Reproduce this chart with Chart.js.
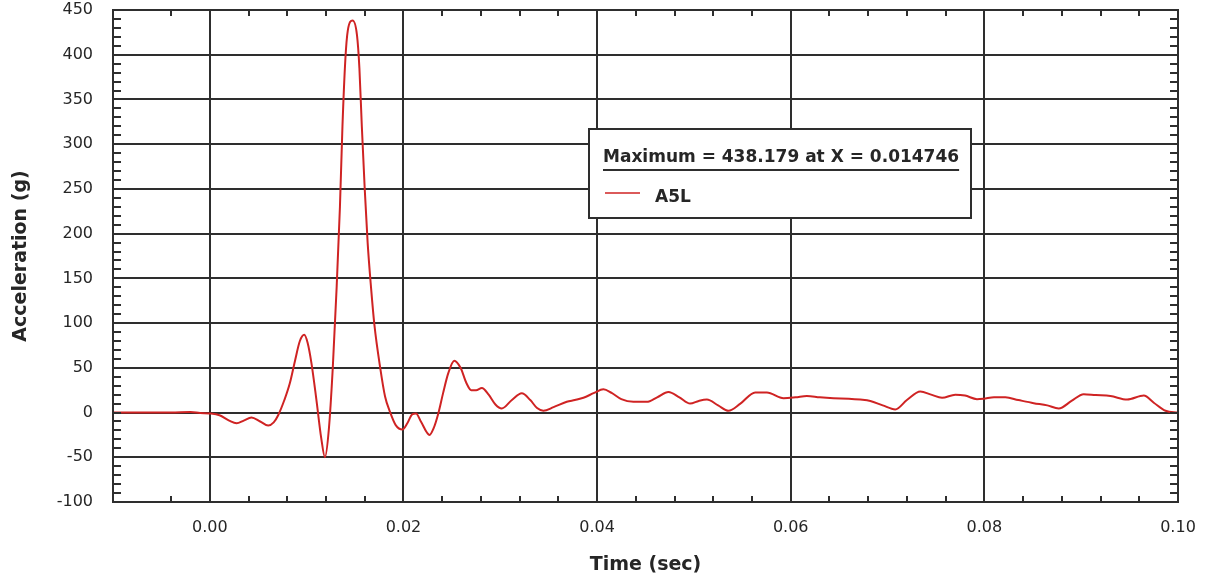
<!DOCTYPE html>
<html>
<head>
<meta charset="utf-8">
<title>A5L acceleration</title>
<script src="https://cdn.jsdelivr.net/npm/chart.js@4.4.1/dist/chart.umd.min.js"></script>
<style>
    html, body { margin: 0; padding: 0; background: #ffffff; }
    #wrap { position: relative; width: 1206px; height: 582px; }
</style>
</head>
<body>
<div id="wrap"><canvas id="accelChart"></canvas></div>
<script>
// Sampled acceleration trace, channel A5L
const seriesName = 'A5L';
const timeSec = [
    -0.01, -0.008, -0.004, -0.002, -0.001, 0.0,
    0.001, 0.002, 0.00276, 0.0035, 0.0043, 0.0052, 0.00603, 0.0066, 0.00706,
    0.0077, 0.00827, 0.0088, 0.0093, 0.00975, 0.0101, 0.0105, 0.011, 0.0115,
    0.01189, 0.0123, 0.0127, 0.0131, 0.01344, 0.0137, 0.014, 0.01425, 0.014746,
    0.0152, 0.01545, 0.0157, 0.016, 0.0163, 0.01665, 0.017, 0.0176, 0.0181,
    0.0186, 0.0192, 0.0199, 0.0204, 0.0209, 0.0213, 0.0218, 0.0227, 0.0231,
    0.0236, 0.0241, 0.02463, 0.02525, 0.0259, 0.0265, 0.027, 0.0275, 0.0281,
    0.0288, 0.0295, 0.03015, 0.0312, 0.03222, 0.0331, 0.0338, 0.03445, 0.0355,
    0.03687, 0.0377, 0.03859, 0.0397, 0.04065, 0.0415, 0.0425, 0.04375, 0.04513,
    0.0462, 0.04737, 0.0485, 0.04961, 0.0505, 0.05134, 0.0525, 0.05357, 0.0548,
    0.05633, 0.05754, 0.05926, 0.0605, 0.06167, 0.063, 0.06442, 0.066, 0.06718,
    0.06822, 0.0695, 0.0708, 0.072, 0.07339, 0.0745, 0.07563, 0.077, 0.078,
    0.07924, 0.07993, 0.081, 0.08217, 0.0835, 0.0851, 0.0865, 0.08768, 0.089,
    0.09026, 0.0915, 0.09302, 0.09475, 0.09647, 0.0975, 0.09871, 0.1
];
const accelG = [
    0, 0, 0, 0.5, -0.5, -1,
    -3, -9, -12, -9, -5.5, -10, -14.5, -11, -3,
    14, 33, 58, 80, 87, 78, 55, 15, -28,
    -50, -18, 50, 140, 230, 320, 395, 427, 438.179,
    422, 385, 320, 250, 190, 140, 98, 50, 18,
    1, -14, -19, -12, -2, -1, -10, -25, -18,
    -1, 22, 44, 58, 50, 33, 25, 25, 27.5,
    20, 9, 4.5, 14, 21.5, 14, 5, 2, 6,
    12, 14, 16.5, 22, 26, 22, 15, 12, 12,
    17, 23, 17, 10, 13, 14.5, 8, 2, 10,
    22.5, 22.5, 16, 17, 18.5, 17, 16, 15.5, 14.5,
    13, 8, 3.5, 14, 23.5, 20, 16.5, 20, 19,
    15, 15.5, 17, 17, 14, 10.5, 8, 4.5, 13,
    20.5, 19.5, 18.5, 14.5, 19, 11, 2, 0
];

// Axis ranges and tick spacing
const xMin = -0.01, xMax = 0.10, xMinorStep = 0.004, xMajorStep = 0.02;
const yMin = -100, yMax = 450, yMinorStep = 10, yMajorStep = 50;

const lineColor = '#cf2323';
const gridColor = '#2e2e2e';
const textColor = '#262626';

function isMajor(value, step) {
    const r = value / step;
    return Math.abs(r - Math.round(r)) < 1e-6;
}

// Find the peak so the legend title is built from the series itself
function findPeak() {
    let idx = 0;
    accelG.forEach((v, i) => { if (v > accelG[idx]) idx = i; });
    return { x: timeSec[idx], y: accelG[idx] };
}

// Frame plus small inward tick marks on all four sides
const frameTicks = {
    id: 'frameTicks',
    afterDatasetsDraw(chart) {
        const { ctx, chartArea: a, scales: { x, y } } = chart;
        ctx.save();
        ctx.strokeStyle = gridColor;
        ctx.lineWidth = 2;
        ctx.beginPath();
        x.ticks.forEach(t => {
            const px = Math.round(x.getPixelForValue(t.value));
            if (px <= a.left + 2 || px >= a.right - 2) return;
            ctx.moveTo(px, a.top); ctx.lineTo(px, a.top + 6);
            ctx.moveTo(px, a.bottom); ctx.lineTo(px, a.bottom - 6);
        });
        y.ticks.forEach(t => {
            const py = Math.round(y.getPixelForValue(t.value));
            if (py <= a.top + 2 || py >= a.bottom - 2) return;
            ctx.moveTo(a.left, py); ctx.lineTo(a.left + 8, py);
            ctx.moveTo(a.right, py); ctx.lineTo(a.right - 8, py);
        });
        ctx.stroke();
        ctx.strokeRect(a.left, a.top, a.right - a.left, a.bottom - a.top);
        ctx.restore();
    }
};

// Boxed legend with the maximum readout
const peakLegend = {
    id: 'peakLegend',
    afterDraw(chart) {
        const { ctx, chartArea: a } = chart;
        const peak = findPeak();
        const title = 'Maximum = ' + peak.y.toFixed(3) + ' at X = ' + peak.x.toFixed(6);
        const left = a.left + 476, top = a.top + 119, w = 382, h = 89;

        ctx.save();
        ctx.fillStyle = '#ffffff';
        ctx.fillRect(left, top, w, h);
        ctx.strokeStyle = gridColor;
        ctx.lineWidth = 2;
        ctx.strokeRect(left, top, w, h);

        ctx.font = 'bold 17px "DejaVu Sans"';
        ctx.fillStyle = textColor;
        ctx.textBaseline = 'alphabetic';
        ctx.textAlign = 'left';
        ctx.fillText(title, left + 14, top + 33);
        const tw = ctx.measureText(title).width;
        ctx.beginPath();
        ctx.moveTo(left + 14, top + 41);
        ctx.lineTo(left + 14 + tw, top + 41);
        ctx.stroke();

        ctx.strokeStyle = lineColor;
        ctx.lineWidth = 1.5;
        ctx.beginPath();
        ctx.moveTo(left + 16, top + 64);
        ctx.lineTo(left + 51, top + 64);
        ctx.stroke();

        ctx.fillText(seriesName, left + 66, top + 73);
        ctx.restore();
    }
};

const points = timeSec.map((t, i) => ({ x: t, y: accelG[i] }));

new Chart(document.getElementById('accelChart'), {
    type: 'line',
    data: {
        datasets: [{
            label: seriesName,
            data: points,
            borderColor: lineColor,
            borderWidth: 2,
            pointRadius: 0,
            fill: false,
            cubicInterpolationMode: 'monotone'
        }]
    },
    options: {
        responsive: true,
        maintainAspectRatio: false,
        animation: false,
        layout: { padding: { top: 10, right: 28, left: 0, bottom: 0 } },
        plugins: {
            legend: { display: false },
            tooltip: { enabled: false }
        },
        scales: {
            x: {
                type: 'linear',
                min: xMin,
                max: xMax,
                afterFit: scale => {
                    scale.height = 80;
                    scale.paddingLeft = 0;
                    scale.paddingRight = 0;
                },
                grid: {
                    drawTicks: false,
                    lineWidth: 2,
                    color: c => isMajor(c.tick.value, xMajorStep) ? gridColor : 'rgba(0,0,0,0)'
                },
                border: { display: false },
                ticks: {
                    stepSize: xMinorStep,
                    autoSkip: false,
                    maxRotation: 0,
                    padding: 16,
                    color: textColor,
                    font: { family: '"DejaVu Sans"', size: 16 },
                    callback: v => isMajor(v, xMajorStep) ? v.toFixed(2) : ''
                },
                title: {
                    display: true,
                    text: 'Time (sec)',
                    color: textColor,
                    font: { family: '"DejaVu Sans"', size: 19, weight: 'bold' },
                    padding: { top: 0, bottom: 6 }
                }
            },
            y: {
                type: 'linear',
                min: yMin,
                max: yMax,
                afterFit: scale => {
                    scale.width = 113;
                    scale.paddingTop = 0;
                    scale.paddingBottom = 0;
                },
                grid: {
                    drawTicks: false,
                    lineWidth: 2,
                    color: c => isMajor(c.tick.value, yMajorStep) ? gridColor : 'rgba(0,0,0,0)'
                },
                border: { display: false },
                ticks: {
                    stepSize: yMinorStep,
                    autoSkip: false,
                    padding: 20,
                    color: textColor,
                    font: { family: '"DejaVu Sans"', size: 16 },
                    callback: v => isMajor(v, yMajorStep) ? String(v) : ''
                },
                title: {
                    display: true,
                    text: 'Acceleration (g)',
                    color: textColor,
                    font: { family: '"DejaVu Sans"', size: 19, weight: 'bold' },
                    padding: { top: 10, bottom: 0 }
                }
            }
        }
    },
    plugins: [frameTicks, peakLegend]
});
</script>
</body>
</html>
